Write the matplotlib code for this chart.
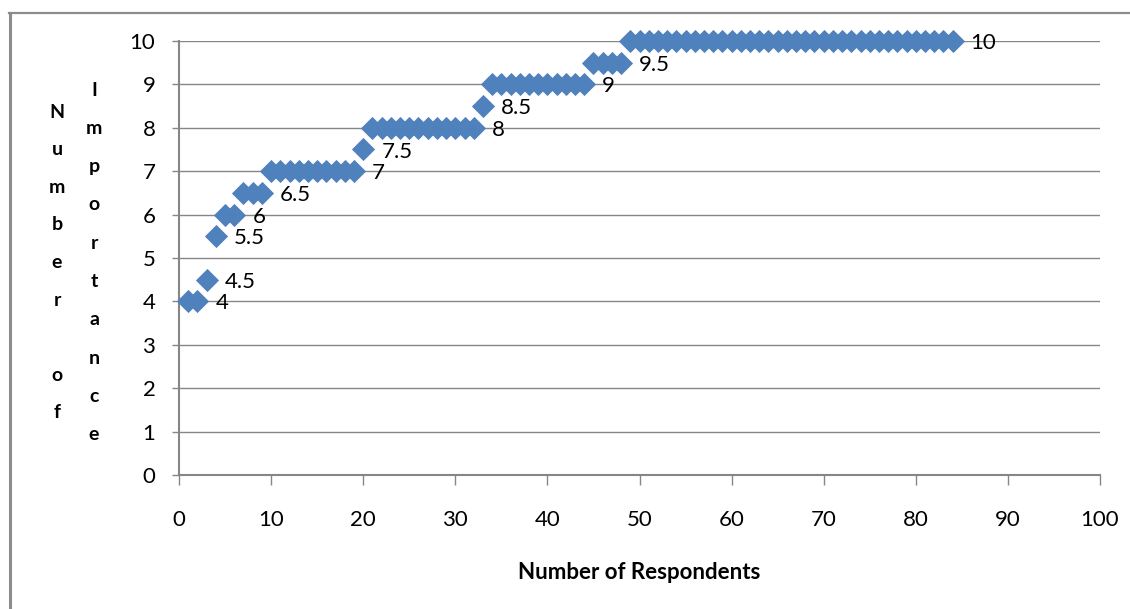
import matplotlib
matplotlib.use('Agg')
import matplotlib.pyplot as plt
from matplotlib.lines import Line2D

# importance score given by each respondent, sorted
importance = [4, 4, 4.5, 5.5, 6, 6, 6.5, 6.5, 6.5,
              7, 7, 7, 7, 7, 7, 7, 7, 7, 7,
              7.5,
              8, 8, 8, 8, 8, 8, 8, 8, 8, 8, 8, 8,
              8.5,
              9, 9, 9, 9, 9, 9, 9, 9, 9, 9, 9,
              9.5, 9.5, 9.5, 9.5,
              10, 10, 10, 10, 10, 10, 10, 10, 10, 10, 10, 10,
              10, 10, 10, 10, 10, 10, 10, 10, 10, 10, 10, 10,
              10, 10, 10, 10, 10, 10, 10, 10, 10, 10, 10, 10]
respondents = list(range(1, len(importance) + 1))

x_ticks = [0, 10, 20, 30, 40, 50, 60, 70, 80, 90, 100]
y_ticks = [0, 1, 2, 3, 4, 5, 6, 7, 8, 9, 10]

W, H = 1130, 609
gris = '#868686'
bleu = '#4F81BD'

plt.rcParams['font.family'] = ['Lato', 'DejaVu Sans']

fig = plt.figure(figsize=(W / 100, H / 100), dpi=100)
ax = fig.add_axes([179 / W, 1 - 475 / H, (1100 - 179) / W, (475 - 41) / H])

ax.plot(respondents, importance, 'D', color=bleu, markersize=11,
        markeredgewidth=0.6, markeredgecolor=bleu, linestyle='none',
        clip_on=False, zorder=3)

# une etiquette sur le dernier point de chaque palier
for i in range(len(importance)):
    if i == len(importance) - 1 or importance[i] != importance[i + 1]:
        ax.annotate('{:g}'.format(importance[i]), (respondents[i], importance[i]),
                    xytext=(13, -1.5), textcoords='offset points',
                    ha='left', va='center', fontsize=16, color='black')

ax.set_xlim(0, 100)
ax.set_ylim(0, 10)
ax.set_xticks(x_ticks)
ax.set_yticks(y_ticks)
ax.grid(axis='y', color=gris, linewidth=1)
ax.set_axisbelow(True)
for s in ['top', 'right']:
    ax.spines[s].set_visible(False)
for s in ['left', 'bottom']:
    ax.spines[s].set_color(gris)
    ax.spines[s].set_linewidth(1.5)
ax.tick_params(axis='y', direction='out', length=5, width=1, color=gris,
               pad=12, labelsize=16)
ax.tick_params(axis='x', direction='out', length=7, width=1, color=gris,
               pad=18, labelsize=16)

ax.set_xlabel('Number of Respondents', fontsize=16, fontweight='bold',
              labelpad=23)

# titre vertical en lettres empilees, deux colonnes
for i, c in enumerate('Number of'):
    fig.text(57 / W, 1 - (112 + i * 37.6) / H, c, ha='center', va='center',
             fontsize=14, fontweight='bold')
for i, c in enumerate('Importance'):
    fig.text(94 / W, 1 - (90 + i * 38.3) / H, c, ha='center', va='center',
             fontsize=14, fontweight='bold')

# cadre du graphique (haut et gauche seulement visibles)
fig.add_artist(Line2D([9 / W, 1], [1 - 12.5 / H, 1 - 12.5 / H], color='#8c8c8c', linewidth=1.6))
fig.add_artist(Line2D([9.5 / W, 9.5 / W], [0, 1 - 12.5 / H], color='#8c8c8c', linewidth=2.2))

fig.savefig('out.png', dpi=100)
